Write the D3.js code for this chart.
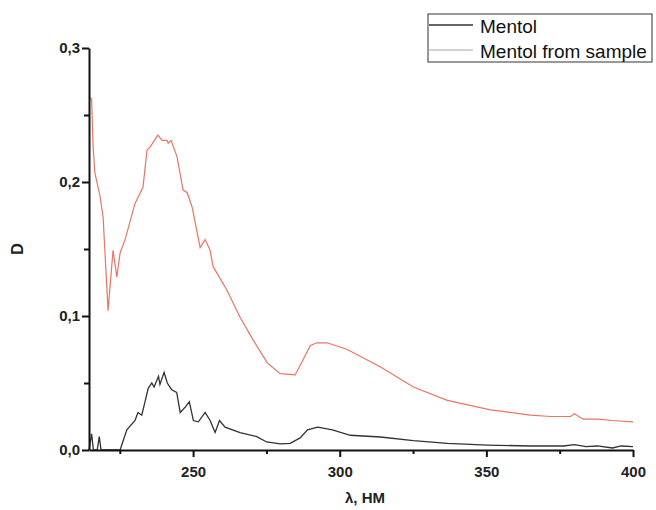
<!DOCTYPE html>
<html>
<head>
<meta charset="utf-8">
<script src="https://cdn.jsdelivr.net/npm/d3@7"></script>
<style>
  body { margin: 0; background: #fff; }
  text { font-family: Arial, "Liberation Sans", sans-serif; }
</style>
</head>
<body>
<div id="chart"></div>
<script>
// series names
const seriesNames = ['Mentol', 'Mentol from sample'];

// Mentol (black) - wavelength, optical density
const mentolX = [214.5, 215.4, 216.0, 216.5, 217.3, 218.0, 218.6, 219.0, 222.0, 225.1, 227.4, 230.2, 231.2, 232.5, 234.7, 235.9, 236.7,
  238.2, 238.7, 240.1, 241.2, 242.7, 244.4, 245.6, 247.3, 248.7, 250.1, 251.8, 254.1, 255.8, 257.5, 259.0, 260.9,
  266.0, 271.7, 275.1, 279.7, 283.1, 286.5, 289.0, 292.5, 297.5, 303.6, 313.9, 325.1, 336.7, 350.3, 365.0, 376.3, 380.0, 384.0, 387.9, 393.0, 396.0, 400.0];
const mentolD = [0.0, 0.012, 0.0, 0.0, 0.0, 0.010, 0.0, 0.0, 0.0, 0.0, 0.015, 0.022, 0.028, 0.026, 0.046, 0.050, 0.047,
  0.055, 0.049, 0.058, 0.050, 0.045, 0.043, 0.028, 0.032, 0.036, 0.022, 0.021, 0.028, 0.022, 0.013, 0.022, 0.017,
  0.013, 0.010, 0.006, 0.0045, 0.005, 0.009, 0.015, 0.017, 0.015, 0.011, 0.0097, 0.007, 0.005, 0.0037, 0.003, 0.003, 0.004, 0.0025, 0.003, 0.0015, 0.003, 0.0025];

// Mentol from sample (red)
const sampleX = [214.5, 215.4, 215.9, 216.5, 218.3, 219.3, 221.0, 222.7, 224.0, 225.1, 226.8, 230.2, 232.9, 234.3, 235.3, 238.0,
  239.4, 241.1, 241.5, 242.5, 244.5, 246.6, 248.0, 249.7, 252.4, 254.1, 255.8, 256.8, 261.6, 266.0, 270.5, 275.3,
  279.7, 284.8, 290.0, 292.3, 295.7, 302.6, 313.9, 325.1, 336.7, 351.4, 355.0, 365.0, 372.0, 378.7, 380.0, 383.0, 387.9, 393.0, 400.0];
const sampleD = [0.263, 0.262, 0.226, 0.207, 0.189, 0.174, 0.104, 0.149, 0.129, 0.147, 0.157, 0.184, 0.196, 0.224, 0.226, 0.235,
  0.231, 0.231, 0.229, 0.231, 0.219, 0.194, 0.192, 0.181, 0.151, 0.157, 0.149, 0.137, 0.119, 0.099, 0.082, 0.065,
  0.057, 0.056, 0.078, 0.080, 0.080, 0.075, 0.062, 0.047, 0.037, 0.030, 0.029, 0.026, 0.025, 0.025, 0.027, 0.023, 0.023, 0.022, 0.021];

// ticks
const xMajor = [250, 300, 350, 400];
const xMinor = [225, 275, 325, 375];
const yMajor = [0, 0.1, 0.2, 0.3];
const yMinor = [0.05, 0.15, 0.25];

const width = 656, height = 510;
const margin = {left: 89, right: 23, top: 48, bottom: 60};

const svg = d3.select('#chart').append('svg')
  .attr('width', width)
  .attr('height', height);

// scales
const xScale = d3.scaleLinear()
  .domain([214.5, 400])
  .range([margin.left, width - margin.right]);

const yScale = d3.scaleLinear()
  .domain([0, 0.3])
  .range([height - margin.bottom, margin.top]);

const commaFmt = function (d) { return d3.format('.1f')(d).replace('.', ','); };

// lines
const line = d3.line()
  .x(function (d) { return xScale(d[0]); })
  .y(function (d) { return yScale(d[1]); });

svg.append('path')
  .datum(sampleX.map(function (x, i) { return [x, sampleD[i]]; }))
  .attr('fill', 'none')
  .attr('stroke', '#ee7363')
  .attr('stroke-width', 1.2)
  .attr('d', line);

svg.append('path')
  .datum(mentolX.map(function (x, i) { return [x, mentolD[i]]; }))
  .attr('fill', 'none')
  .attr('stroke', '#333')
  .attr('stroke-width', 1.3)
  .attr('d', line);

// x axis
const xAxis = svg.append('g')
  .attr('transform', `translate(0, ${yScale(0)})`)
  .call(d3.axisBottom(xScale).tickValues(xMajor).tickSize(7).tickSizeOuter(0).tickFormat(d3.format('d')));
svg.append('g')
  .attr('transform', `translate(0, ${yScale(0)})`)
  .call(d3.axisBottom(xScale).tickValues(xMinor).tickSize(4).tickSizeOuter(0).tickFormat(''))
  .select('.domain').remove();

// y axis
const yAxis = svg.append('g')
  .attr('transform', `translate(${margin.left}, 0)`)
  .call(d3.axisLeft(yScale).tickValues(yMajor).tickSize(7).tickSizeOuter(0).tickFormat(commaFmt));
svg.append('g')
  .attr('transform', `translate(${margin.left}, 0)`)
  .call(d3.axisLeft(yScale).tickValues(yMinor).tickSize(5).tickSizeOuter(0).tickFormat(''))
  .select('.domain').remove();

svg.selectAll('.domain, .tick line')
  .attr('stroke', '#111')
  .attr('stroke-width', 2);

svg.selectAll('.tick text')
  .attr('fill', '#222')
  .style('font-size', '15px')
  .style('font-weight', 'bold');
xAxis.selectAll('.tick text').attr('dy', '1.1em');
yAxis.selectAll('.tick text').attr('x', -9);

// axis titles
svg.append('text')
  .attr('transform', `translate(23, ${(margin.top + yScale(0)) / 2}) rotate(-90)`)
  .attr('text-anchor', 'middle')
  .style('font-size', '16px')
  .style('font-weight', 'bold')
  .attr('fill', '#222')
  .text('D');

svg.append('text')
  .attr('x', 365)
  .attr('y', 503)
  .attr('text-anchor', 'middle')
  .style('font-size', '15px')
  .style('font-weight', 'bold')
  .attr('fill', '#222')
  .text('λ, HM');

// legend
const legend = svg.append('g').attr('transform', 'translate(428, 14)');
legend.append('rect')
  .attr('width', 224)
  .attr('height', 48)
  .attr('fill', '#fff')
  .attr('stroke', '#333')
  .attr('stroke-width', 1);

const legendColors = ['#333', '#c9c2c2'];
seriesNames.forEach(function (name, i) {
  legend.append('line')
    .attr('x1', 1).attr('x2', 45)
    .attr('y1', 11 + i * 25).attr('y2', 11 + i * 25)
    .attr('stroke', legendColors[i])
    .attr('stroke-width', 1.5);
  legend.append('text')
    .attr('x', 52)
    .attr('y', 19 + i * 25)
    .style('font-size', '19px')
    .attr('fill', '#111')
    .text(name);
});
</script>
</body>
</html>
